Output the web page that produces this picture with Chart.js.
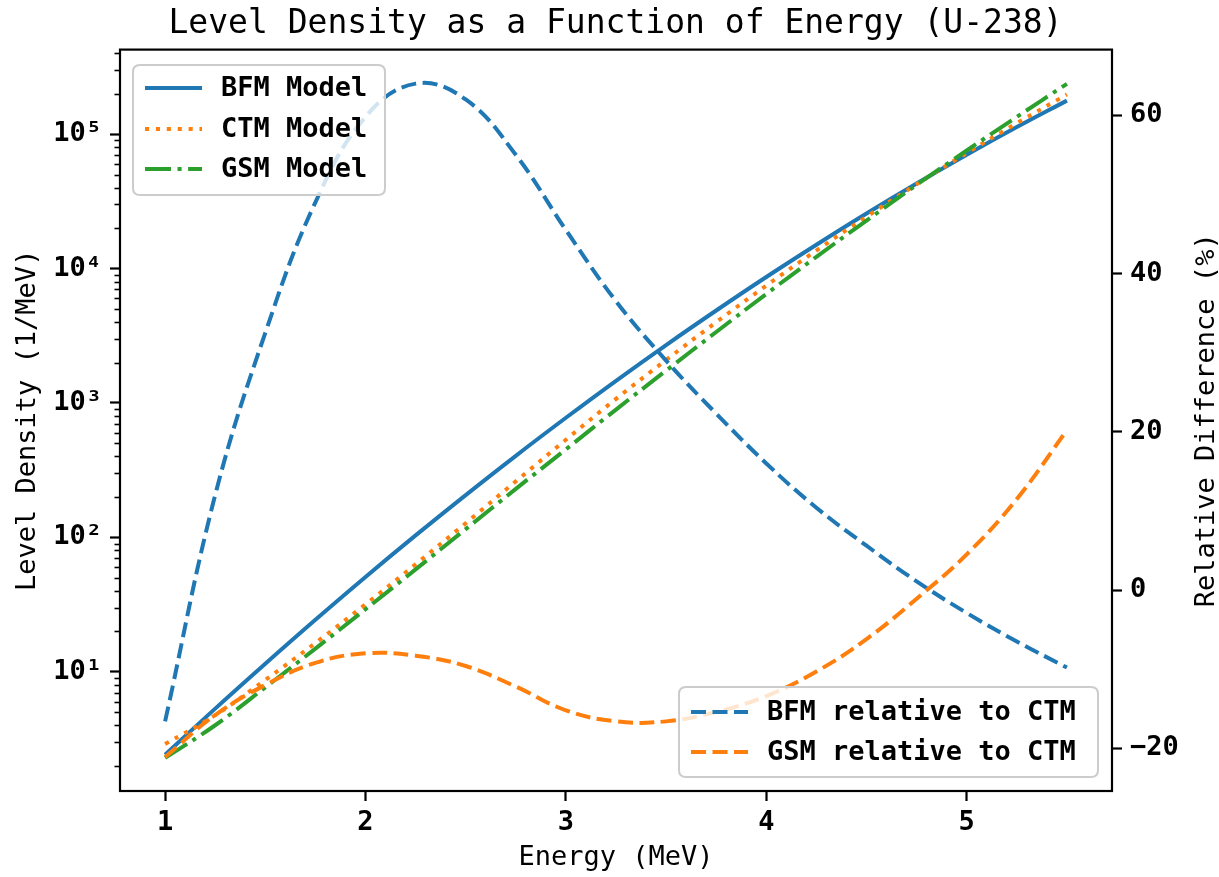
<!DOCTYPE html>
<html><head><meta charset="utf-8">
<script src="https://cdn.jsdelivr.net/npm/chart.js@4.4.1/dist/chart.umd.min.js"></script>
<style>html,body{margin:0;padding:0;background:#fff;}#wrap{width:1219px;height:877px;}</style>
</head><body><div id="wrap"><canvas id="c" width="1219" height="877"></canvas></div>
<script>
// ---- data ----
const energy = [1.0, 1.25, 1.5, 1.75, 2.0, 2.25, 2.5, 2.75, 3.0, 3.25, 3.5, 3.75, 4.0, 4.25, 4.5, 4.75, 5.0, 5.25, 5.5];
const bfmModel = [2.42, 5.33, 11.5, 24.4, 50.8, 103.5, 206.5, 404.6, 776.2, 1462, 2698, 4875, 8650, 15030, 25650, 42850, 70150, 112700, 177400];
const ctmModel = [2.904, 4.764, 8.71, 16.4, 31.8, 63.1, 127.6, 261.2, 533.3, 1072, 2089, 3990, 7464, 13610, 24270, 42360, 72280, 120500, 196800];
const gsmModel = [2.291, 4.009, 7.674, 14.89, 29.24, 57.81, 115.3, 229.6, 451.9, 893.3, 1742, 3373, 6471, 12220, 22750, 41880, 75510, 134300, 236600];
const bfmRelCtm = [-16.6, 12.0, 32.5, 49.0, 59.8, 64.0, 62.0, 55.0, 45.5, 36.5, 29.0, 22.3, 16.0, 10.4, 5.6, 1.1, -2.9, -6.5, -9.8];
const gsmRelCtm = [-21.1, -15.8, -12.0, -9.2, -8.0, -8.3, -9.6, -12.2, -15.2, -16.6, -16.6, -15.4, -13.4, -10.3, -6.2, -1.1, 4.5, 11.5, 20.2];

const xTicks = [1, 2, 3, 4, 5];
const densityTicks = [10, 100, 1000, 10000, 100000];
const densityTickLabels = ['10\u00B9', '10\u00B2', '10\u00B3', '10\u2074', '10\u2075'];
const relTicks = [-20, 0, 20, 40, 60];
const relTickLabels = ['\u221220', '0', '20', '40', '60'];

const titleText = 'Level Density as a Function of Energy (U-238)';
const xTitle = 'Energy (MeV)';
const yTitle = 'Level Density (1/MeV)';
const y1Title = 'Relative Difference (%)';

const C_BLUE = '#1f77b4', C_ORANGE = '#ff7f0e', C_GREEN = '#2ca02c';
const FAM = "'DejaVu Sans Mono', monospace";
const DASHED = [15, 6.5], DOTTED = [4.1, 6.8], DASHDOT = [26, 6.5, 4.1, 6.5];

const pts = arr => energy.map((x, i) => ({x: x, y: arr[i]}));

function lineDS(label, arr, color, dash, axis, order) {
  return {label, data: pts(arr), borderColor: color, backgroundColor: color, borderWidth: 4,
    borderDash: dash, borderCapStyle: 'butt', pointRadius: 0, fill: false,
    tension: 0.4, yAxisID: axis, order};
}

const legend1 = [
  {label: 'BFM Model', color: C_BLUE, dash: []},
  {label: 'CTM Model', color: C_ORANGE, dash: DOTTED},
  {label: 'GSM Model', color: C_GREEN, dash: DASHDOT}
];
const legend2 = [
  {label: 'BFM relative to CTM', color: C_BLUE, dash: DASHED},
  {label: 'GSM relative to CTM', color: C_ORANGE, dash: DASHED}
];

function roundRect(ctx, x, y, w, h, r) {
  ctx.beginPath();
  ctx.moveTo(x + r, y); ctx.lineTo(x + w - r, y); ctx.quadraticCurveTo(x + w, y, x + w, y + r);
  ctx.lineTo(x + w, y + h - r); ctx.quadraticCurveTo(x + w, y + h, x + w - r, y + h);
  ctx.lineTo(x + r, y + h); ctx.quadraticCurveTo(x, y + h, x, y + h - r);
  ctx.lineTo(x, y + r); ctx.quadraticCurveTo(x, y, x + r, y); ctx.closePath();
}

function drawLegend(ctx, box, items, rowY) {
  ctx.save();
  roundRect(ctx, box.x, box.y, box.w, box.h, 7);
  ctx.fillStyle = 'rgba(255,255,255,0.8)';
  ctx.fill();
  ctx.lineWidth = 2; ctx.strokeStyle = '#cccccc'; ctx.stroke();
  items.forEach((it, i) => {
    const y = rowY[i];
    ctx.beginPath();
    ctx.setLineDash(it.dash); ctx.lineCap = 'butt';
    ctx.strokeStyle = it.color; ctx.lineWidth = 4;
    ctx.moveTo(box.x + 12, y); ctx.lineTo(box.x + 69, y); ctx.stroke();
    ctx.setLineDash([]);
    ctx.fillStyle = '#000'; ctx.font = 'bold 27px ' + FAM; ctx.textBaseline = 'middle'; ctx.textAlign = 'left';
    ctx.fillText(it.label, box.x + 88, y + 1);
  });
  ctx.restore();
}

const decor = {
  id: 'decor',
  afterDraw(chart) {
    const ctx = chart.ctx, a = chart.chartArea, ys = chart.scales.y;
    ctx.save();
    // minor log ticks
    ctx.strokeStyle = '#000'; ctx.lineWidth = 1.6;
    for (let n = 0; n <= 5; n++) {
      for (let k = 2; k <= 9; k++) {
        const v = k * Math.pow(10, n);
        if (v < ys.min || v > ys.max) continue;
        const py = Math.round(ys.getPixelForValue(v)) + 0.5;
        ctx.beginPath(); ctx.moveTo(a.left - 5.5, py); ctx.lineTo(a.left, py); ctx.stroke();
      }
    }
    // frame
    ctx.lineWidth = 2.2; ctx.strokeStyle = '#000';
    ctx.strokeRect(a.left, a.top, a.right - a.left, a.bottom - a.top);
    // right axis title
    ctx.fillStyle = '#000'; ctx.font = '27px ' + FAM; ctx.textAlign = 'center'; ctx.textBaseline = 'middle';
    ctx.translate(1207, (a.top + a.bottom) / 2); ctx.rotate(-Math.PI / 2);
    ctx.fillText(y1Title, 0, 0);
    ctx.restore();
    drawLegend(ctx, {x: 133, y: 65, w: 252, h: 130}, legend1, [88, 129, 169]);
    drawLegend(ctx, {x: 679, y: 687, w: 419, h: 90}, legend2, [712, 752]);
  }
};

const tickFont = {family: FAM, size: 27, weight: 'bold'};
const titleFont = {family: FAM, size: 27, weight: 'normal'};
const gridOpts = {drawOnChartArea: false, drawTicks: true, tickLength: 10, tickWidth: 2.2, tickColor: '#000'};

new Chart(document.getElementById('c'), {
  type: 'line',
  data: {datasets: [
    lineDS('GSM relative to CTM', gsmRelCtm, C_ORANGE, DASHED, 'y1', 0),
    lineDS('BFM relative to CTM', bfmRelCtm, C_BLUE, DASHED, 'y1', 1),
    lineDS('GSM Model', gsmModel, C_GREEN, DASHDOT, 'y', 2),
    lineDS('CTM Model', ctmModel, C_ORANGE, DOTTED, 'y', 3),
    lineDS('BFM Model', bfmModel, C_BLUE, [], 'y', 4)
  ]},
  options: {
    responsive: false, animation: false, devicePixelRatio: 1,
    layout: {padding: {left: 12, right: 0, top: 0, bottom: 0}},
    plugins: {
      legend: {display: false}, tooltip: {enabled: false},
      title: {display: true, text: titleText, color: '#000', font: {family: FAM, size: 33, weight: 'normal'}, padding: {top: 5, bottom: 5}}
    },
    scales: {
      x: {type: 'linear', min: 0.775, max: 5.725,
        afterBuildTicks: s => { s.ticks = xTicks.map(v => ({value: v})); },
        ticks: {callback: v => String(v), font: tickFont, color: '#000', padding: 6, maxRotation: 0, autoSkip: false},
        grid: gridOpts, border: {display: false},
        title: {display: true, text: xTitle, color: '#000', font: titleFont, padding: {top: 0, bottom: 3}},
        afterFit: s => { s.height = 86; }
      },
      y: {type: 'logarithmic', position: 'left', min: 1.30, max: 4.25e5,
        afterBuildTicks: s => { s.ticks = densityTicks.map(v => ({value: v})); },
        ticks: {callback: v => { const i = densityTicks.indexOf(v); return i >= 0 ? densityTickLabels[i] : ''; },
          font: tickFont, color: '#000', padding: 8, autoSkip: false},
        grid: gridOpts, border: {display: false},
        title: {display: true, text: yTitle, color: '#000', font: titleFont, padding: {top: 0, bottom: 0}},
        afterFit: s => { s.width = 108; }
      },
      y1: {type: 'linear', position: 'right', min: -25.4, max: 68.3,
        afterBuildTicks: s => { s.ticks = relTicks.map(v => ({value: v})); },
        ticks: {callback: v => { const i = relTicks.indexOf(v); return i >= 0 ? relTickLabels[i] : ''; },
          font: tickFont, color: '#000', padding: 8, autoSkip: false},
        grid: gridOpts, border: {display: false},
        title: {display: false},
        afterFit: s => { s.width = 107; }
      }
    }
  },
  plugins: [decor]
});
</script></body></html>
